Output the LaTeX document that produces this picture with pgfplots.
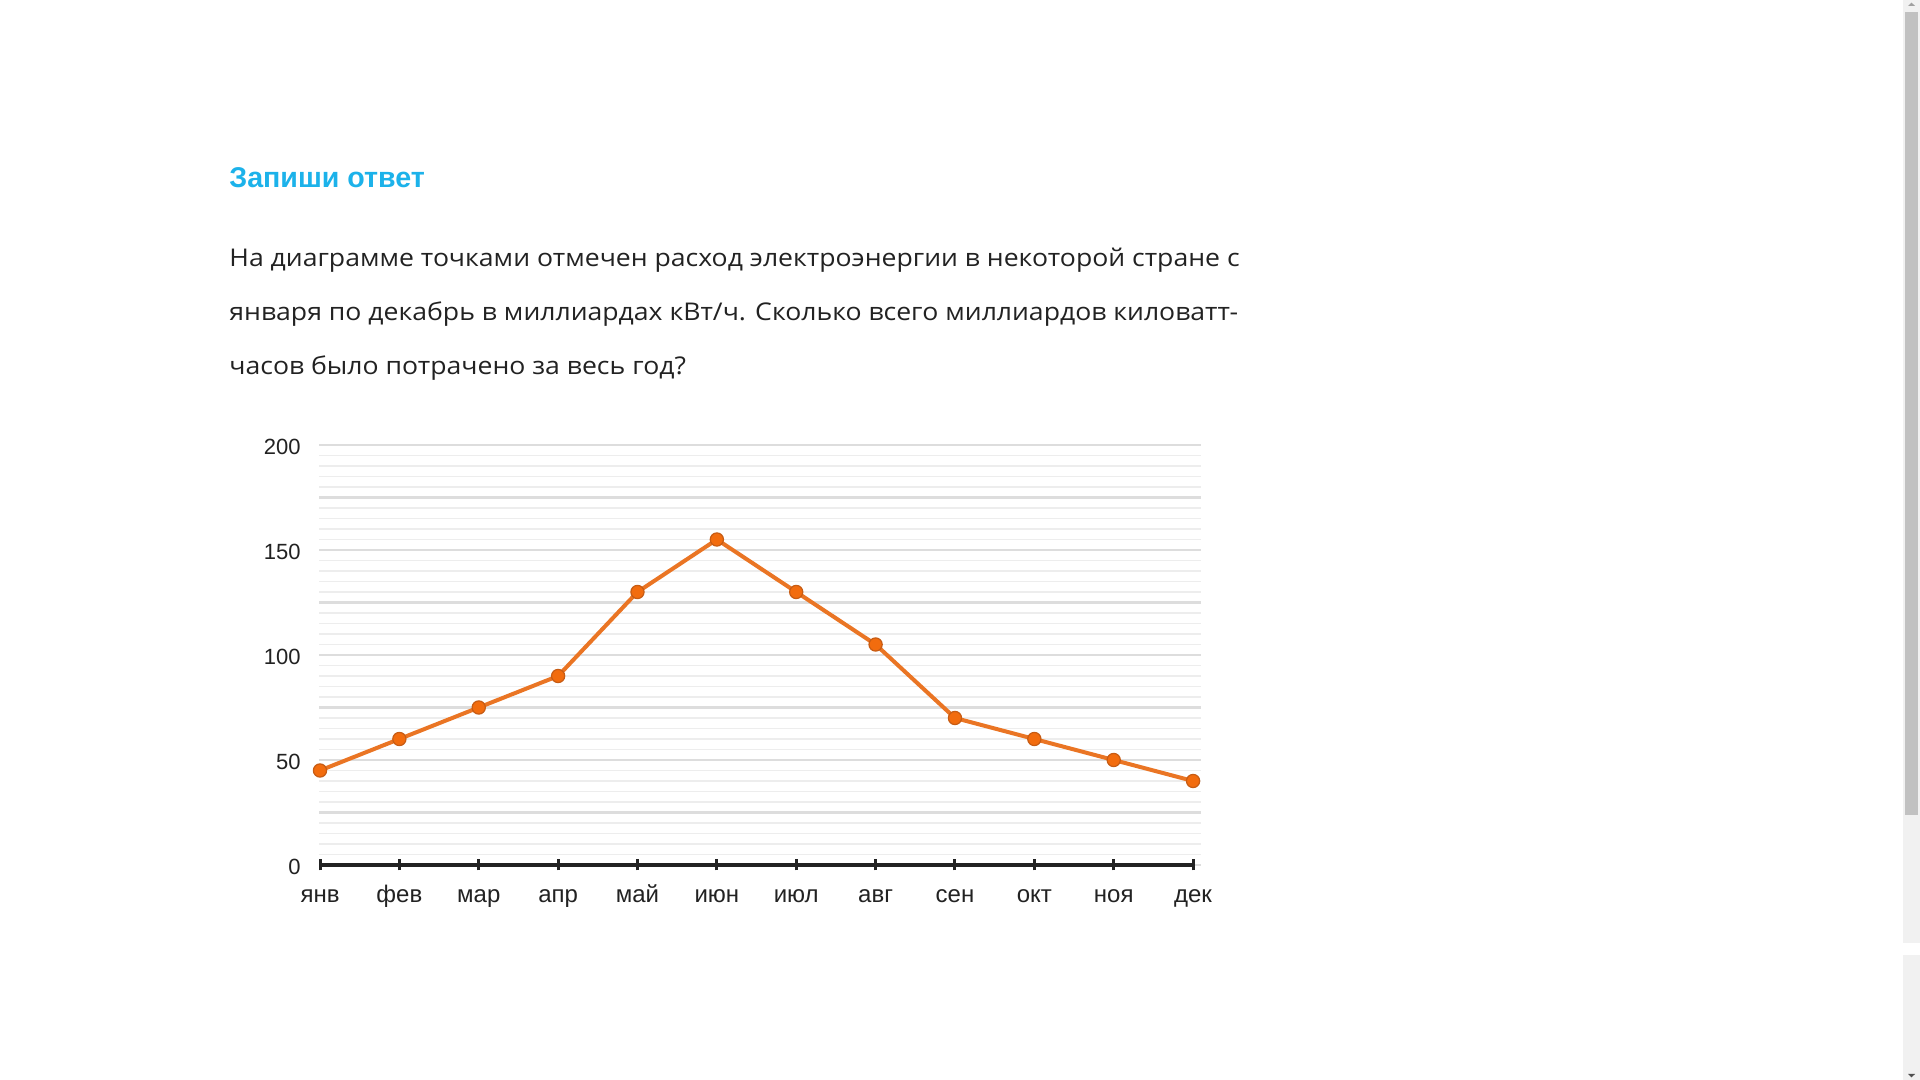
\documentclass[border=0pt]{standalone}
\usepackage{fontspec}
\usepackage{pgfplots}
\pgfplotsset{compat=1.18}
\setmainfont{Open Sans}[FakeStretch=1.09]
\newfontfamily\chartfont{Liberation Sans}
\newfontfamily\titlefont{Liberation Sans}

\definecolor{txt}{HTML}{222222}
\definecolor{ttl}{HTML}{1CB2EA}
\definecolor{lineor}{HTML}{EA7524}
\definecolor{markor}{HTML}{F26C0E}
\definecolor{markedge}{HTML}{C75C14}
\definecolor{gridmaj}{HTML}{DDDDDD}
\definecolor{gridmin}{HTML}{EDEDED}
\definecolor{axisc}{HTML}{222222}

% monthly consumption, billion kWh
\pgfplotstableread{
m val
0 45
1 60
2 75
3 90
4 130
5 155
6 130
7 105
8 70
9 60
10 50
11 40
}\usage

\begin{document}
\begin{tikzpicture}
% page: 1 px = 0.5pt
\fill[white] (0,0) rectangle (960pt,540pt);

\node[anchor=base west, inner sep=0pt, text=ttl, font=\titlefont\bfseries\fontsize{14.3}{16}\selectfont]
  at (114.5pt,446pt) {Запиши ответ};
\begin{scope}[every node/.style={anchor=base west, inner sep=0pt, text=txt, font=\fontsize{12.2}{14}\selectfont}]
\node at (114.5pt,406.5pt) {На диаграмме точками отмечен расход электроэнергии в некоторой стране с};
\node at (114.5pt,379.5pt) {января по декабрь в миллиардах кВт/ч. Сколько всего миллиардов киловатт-};
\node at (114.5pt,352.5pt) {часов было потрачено за весь год?};
\end{scope}

\begin{axis}[
  at={(159.5pt,107.5pt)}, anchor=south west,
  scale only axis, width=441pt, height=210pt,
  xmin=-0.0126, xmax=11.1, ymin=0, ymax=200,
  clip=false,
  axis line style={draw=none},
  xtick={0,...,11},
  xticklabels={янв,фев,мар,апр,май,июн,июл,авг,сен,окт,ноя,дек},
  xtick pos=bottom, xtick align=center,
  major tick length=5.5pt,
  xtick style={color=axisc, line width=1.5pt},
  ytick={0,50,100,150,200},
  yticklabels={0,50,100,150,200},
  ytick style={draw=none},
  extra y ticks={25,75,125,175},
  extra y tick labels={},
  extra y tick style={grid=major, tick style={draw=none}},
  minor y tick num=9,
  ymajorgrids, yminorgrids,
  major grid style={color=gridmaj, line width=1.3pt},
  minor grid style={color=gridmin, line width=0.9pt},
  ticklabel style={text=axisc, inner sep=0pt},
  yticklabel style={font=\chartfont\fontsize{11}{12}\selectfont, anchor=east, xshift=-9pt, yshift=-1.2pt},
  xticklabel style={font=\chartfont\fontsize{12}{13}\selectfont, anchor=base, yshift=-16pt},
]
\draw[axisc, line width=2pt] (axis cs:0,0) -- (axis cs:11,0);
\addplot[lineor, line width=2pt, mark=*, mark size=3.3pt,
  mark options={fill=markor, draw=markedge, line width=0.6pt}]
  table[x=m, y=val] {\usage};
\end{axis}

% scrollbar
\fill[color={rgb,255:red,241;green,241;blue,241}] (951.5pt,0) rectangle (960pt,540pt);
\fill[color={rgb,255:red,193;green,193;blue,193}] (952.5pt,132.5pt) rectangle (959pt,534pt);
\fill[white] (951.5pt,62.5pt) rectangle (960pt,68.5pt);
\fill[color={rgb,255:red,160;green,160;blue,160}] (954pt,537pt) -- (957.5pt,537pt) -- (955.75pt,538.7pt) -- cycle;
\fill[color={rgb,255:red,80;green,80;blue,80}] (954pt,3pt) -- (957.5pt,3pt) -- (955.75pt,1.3pt) -- cycle;
\end{tikzpicture}
\end{document}
